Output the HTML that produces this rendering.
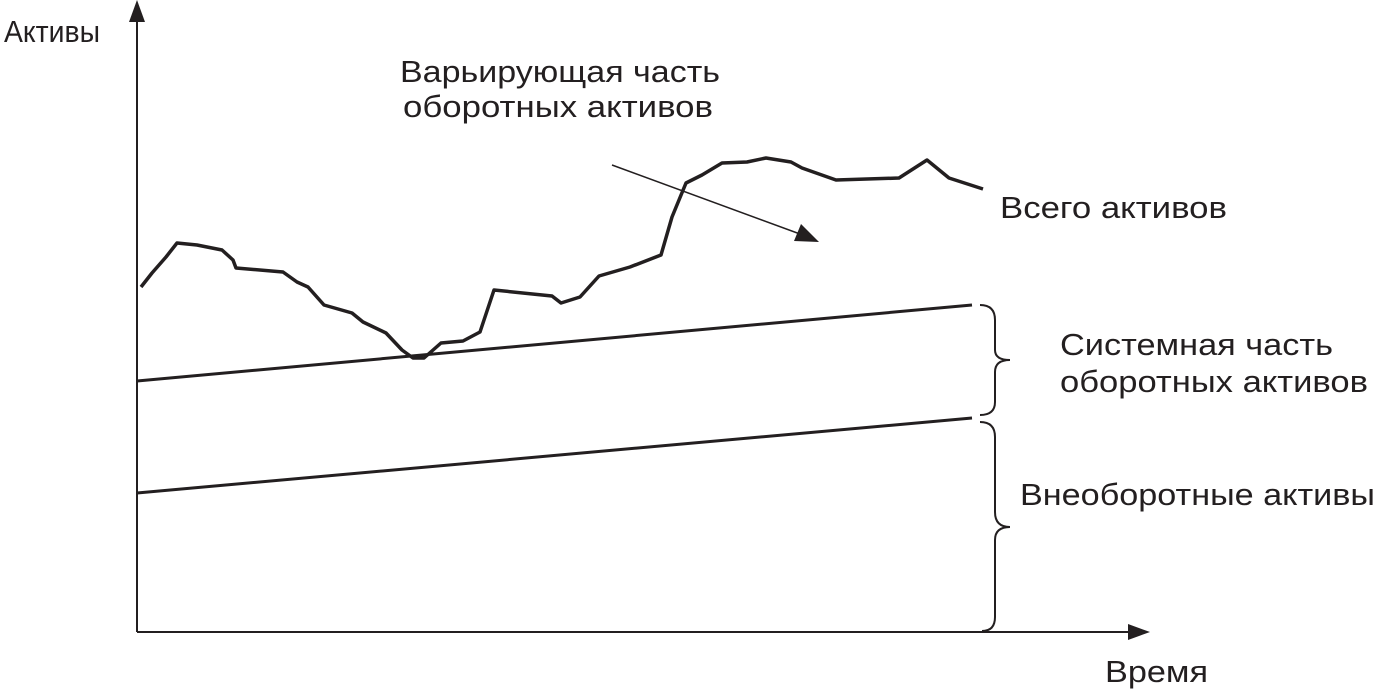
<!DOCTYPE html>
<html><head><meta charset="utf-8"><style>
body{margin:0;background:#fff;}
svg{display:block}
text{font-family:"Liberation Sans",sans-serif;font-size:31px;fill:#231f20}
</style></head><body>
<svg width="1376" height="689" viewBox="0 0 1376 689">
<g stroke="#231f20" fill="none">
<line x1="137" y1="632" x2="137" y2="20" stroke-width="2"/>
<line x1="137" y1="632" x2="1130" y2="632" stroke-width="2"/>
<line x1="137" y1="381" x2="972" y2="305" stroke-width="3"/>
<line x1="137" y1="493" x2="972" y2="418" stroke-width="3"/>
<polyline stroke-width="3.5" stroke-linejoin="round" points="141,287 152,273 166,257 177,243 197,245 222,250 233,260 236,268 283,272 297,282 308,287 324,305 352,313 363,322 386,333 402,350 413,358 424,358 441,343 463,341 480,332 494,290 552,296 561,303 580,297 599,276 630,267 661,255 672,217 686,183 702,175 722,163 747,162 766,158 791,162 802,168 836,180 899,178 927,160 949,178 983,189"/>
<line x1="612" y1="165" x2="800" y2="234" stroke-width="1.5"/>
<path d="M980,305 Q995,305 995,320 L995,350 Q995,360 1010,360 Q995,360 995,372 L995,402 Q995,415 980,415" stroke-width="2"/>
<path d="M980,422 Q995,422 995,437 L995,512 Q995,527 1010,527 Q995,527 995,540 L995,617 Q995,631 982,631" stroke-width="2"/>
</g>
<g fill="#231f20">
<polygon points="137,0 129,22 145,22"/>
<polygon points="1150,632 1128,624 1128,640"/>
<polygon points="819,242 794,241 801,224"/>
</g>
<text x="4" y="42" textLength="96" lengthAdjust="spacingAndGlyphs">Активы</text>
<text x="400" y="82" textLength="320" lengthAdjust="spacingAndGlyphs">Варьирующая часть</text>
<text x="403" y="117" textLength="310" lengthAdjust="spacingAndGlyphs">оборотных активов</text>
<text x="1000" y="218" textLength="227" lengthAdjust="spacingAndGlyphs">Всего активов</text>
<text x="1060" y="355" textLength="273" lengthAdjust="spacingAndGlyphs">Системная часть</text>
<text x="1060" y="392" textLength="308" lengthAdjust="spacingAndGlyphs">оборотных активов</text>
<text x="1020" y="505" textLength="355" lengthAdjust="spacingAndGlyphs">Внеоборотные активы</text>
<text x="1105" y="682" textLength="103" lengthAdjust="spacingAndGlyphs">Время</text>
</svg>
</body></html>
